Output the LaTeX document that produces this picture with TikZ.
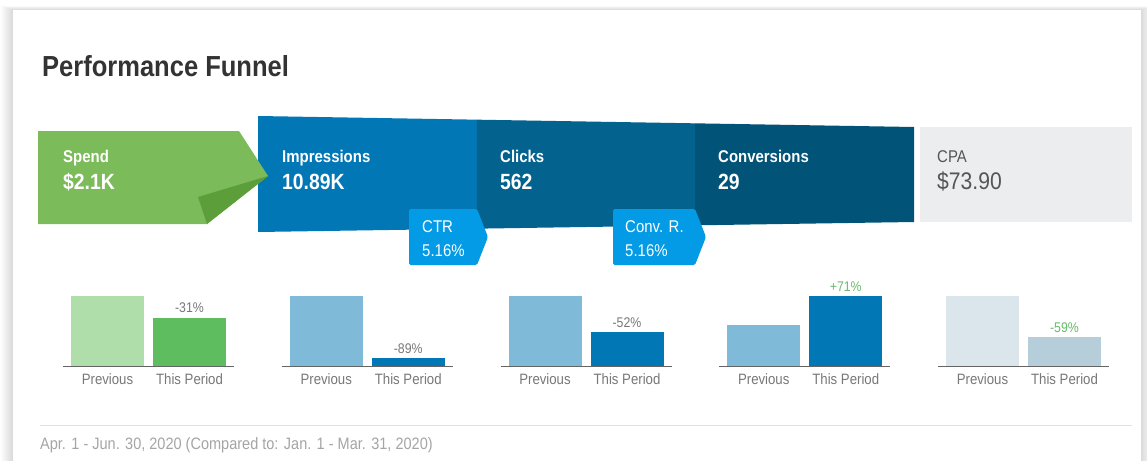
\documentclass[tikz,border=0pt]{standalone}
\usepackage{fontspec}
\setmainfont{Liberation Sans}[FakeStretch=0.88]
\usetikzlibrary{calc}
\definecolor{spendc}{RGB}{124,187,90}
\definecolor{foldc}{RGB}{92,158,58}
\definecolor{impc}{RGB}{2,119,181}
\definecolor{clkc}{RGB}{3,98,142}
\definecolor{convc}{RGB}{1,83,119}
\definecolor{tagc}{RGB}{3,155,229}
\definecolor{cpac}{RGB}{236,237,239}
\definecolor{cpat}{RGB}{85,85,85}
\definecolor{titlec}{RGB}{51,51,51}
\definecolor{footc}{RGB}{165,165,165}
\definecolor{axisc}{RGB}{100,100,100}
\definecolor{labc}{RGB}{120,120,120}
\definecolor{goodc}{RGB}{102,187,106}
\definecolor{gprev}{RGB}{176,222,170}
\definecolor{gthis}{RGB}{94,189,94}
\definecolor{bprev}{RGB}{127,186,216}
\definecolor{bthis}{RGB}{2,119,181}
\definecolor{cprev}{RGB}{219,229,236}
\definecolor{cthis}{RGB}{181,206,217}
\definecolor{rulec}{RGB}{226,226,226}
\tikzset{
  hd/.style={anchor=base west, inner sep=0pt, text=white, font=\bfseries\fontsize{17}{20}\selectfont},
  big/.style={anchor=base west, inner sep=0pt, text=white, font=\bfseries\fontsize{22}{26}\selectfont},
  tagt/.style={anchor=base west, inner sep=0pt, text=white, font=\fontsize{17}{20}\selectfont},
  pct/.style={anchor=base, inner sep=0pt, font=\fontsize{14}{17}\selectfont},
  barlbl/.style={anchor=base, inner sep=0pt, text=labc, font=\fontsize{15}{18}\selectfont},
  tagshape/.style={fill=tagc, rounded corners=1.5pt},
}
\begin{document}
\begin{tikzpicture}[x=1pt,y=-1pt]
\useasboundingbox (0,0) rectangle (1147,460);
% page background and card shadow
\fill[white] (0,0) rectangle (1147,460);
\foreach \k in {1,...,12}{
  \fill[black, opacity=0.013] (13-\k,10-\k/3) rectangle (1141+\k,470);
}
\fill[white] (13,10) rectangle (1141,470);
% title
\node[anchor=base west, inner sep=0pt, text=titlec, font=\bfseries\fontsize{29}{34}\selectfont] (title) at (42,76) {Performance Funnel};
% funnel
\coordinate (ftl) at (258,116);
\coordinate (ftr) at (914,127);
\coordinate (fbl) at (258,232);
\coordinate (fbr) at (914,222);
\fill[impc] (ftl) -- ($(ftl)!0.3338!(ftr)$) -- ($(fbl)!0.3338!(fbr)$) -- (fbl) -- cycle;
\fill[clkc] ($(ftl)!0.3338!(ftr)$) -- ($(ftl)!0.6662!(ftr)$) -- ($(fbl)!0.6662!(fbr)$) -- ($(fbl)!0.3338!(fbr)$) -- cycle;
\fill[convc] ($(ftl)!0.6662!(ftr)$) -- (ftr) -- (fbr) -- ($(fbl)!0.6662!(fbr)$) -- cycle;
% spend arrow
\fill[spendc] (38,131) -- (239,131) -- (268,176) -- (207,224) -- (38,224) -- cycle;
\fill[foldc] (198,197) -- (268,176) -- (207,224) -- cycle;
% CPA box
\fill[cpac] (920,127) rectangle (1132,222);
% rate tags
\fill[tagshape] (409,209) -- (477,209) -- (488,237) -- (477,265) -- (409,265) -- cycle;
\fill[tagshape] (613,209) -- (695,209) -- (706,237) -- (695,265) -- (613,265) -- cycle;
% block texts
\node[hd] (spendL) at (63,162) {Spend};
\node[big] (spendV) at (63,189) {\$2.1K};
\node[hd] (impL) at (282,162) {Impressions};
\node[big] (impV) at (282,189) {10.89K};
\node[hd] (clkL) at (500,162) {Clicks};
\node[big] (clkV) at (500,189) {562};
\node[hd] (convL) at (718,162) {Conversions};
\node[big] (convV) at (718,189) {29};
\node[hd, text=cpat, font=\fontsize{17}{20}\selectfont] (cpaL) at (937,162) {CPA};
\node[big, text=cpat, font=\fontsize{24}{28}\selectfont] (cpaV) at (937,189) {\$73.90};
\node[tagt] (ctrL) at (422,232) {CTR};
\node[tagt] (ctrV) at (422,256) {5.16\%};
\node[tagt] (crL) at (625,232) {Conv. R.};
\node[tagt] (crV) at (625,256) {5.16\%};
% bar charts
\foreach \i/\ph/\th/\cp/\ct/\pc/\pcol in {0/70/48.3/gprev/gthis/-31\%/labc, 1/70/7.7/bprev/bthis/-89\%/labc, 2/70/33.6/bprev/bthis/-52\%/labc, 3/41/70/bprev/bthis/+71\%/goodc, 4/70/28.7/cprev/cthis/-59\%/goodc}{
  \pgfmathsetmacro\X{71+218.75*\i}
  \fill[\cp] (\X,366) rectangle ++(73,-\ph);
  \fill[\ct] (\X+82,366) rectangle ++(73,-\th);
  \draw[axisc, line width=0.8pt] (\X-8,366) -- (\X+163,366);
  \node[pct, text=\pcol] (pct\i) at (\X+118.5,366-\th-5) {\pc};
  \node[barlbl] (prev\i) at (\X+36.5,384) {Previous};
  \node[barlbl] (this\i) at (\X+118.5,384) {This Period};
}
% footer
\draw[rulec, line width=0.8pt] (40,425) -- (1132,425);
\node[anchor=base west, inner sep=0pt, text=footc, font=\fontsize{16.5}{19}\selectfont] (foot) at (40,449) {Apr. 1 - Jun. 30, 2020 (Compared to: Jan. 1 - Mar. 31, 2020)};
\end{tikzpicture}
\end{document}
